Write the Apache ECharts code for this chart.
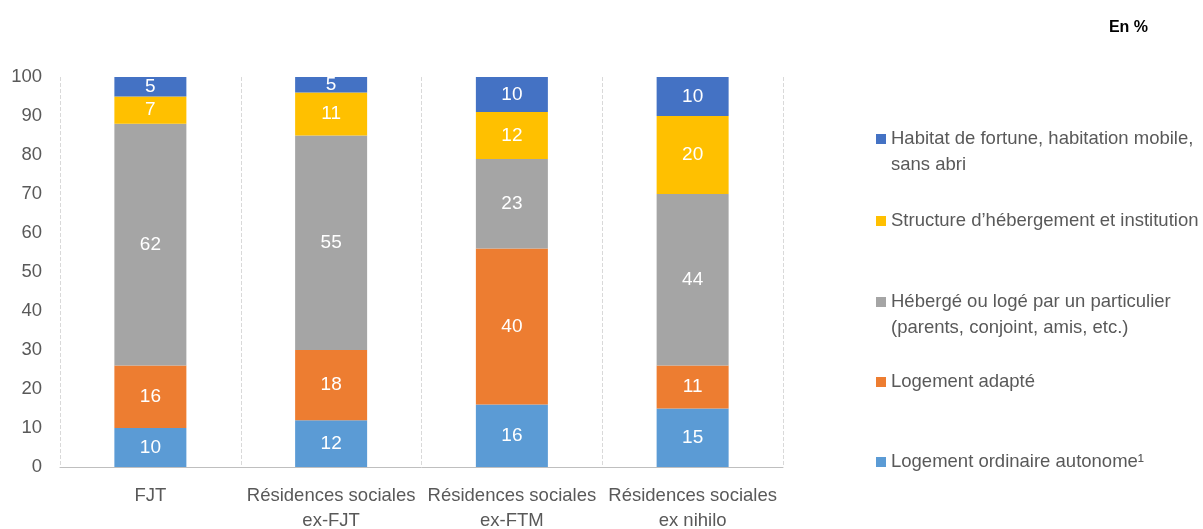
<!DOCTYPE html>
<html><head><meta charset="utf-8">
<script src="https://cdn.jsdelivr.net/npm/echarts@6/dist/echarts.min.js"></script>
<style>html,body{margin:0;padding:0;background:#fff}#c{width:1203px;height:529px}</style>
</head><body><div id="c"></div>
<script>
const categories = ['FJT', 'Résidences sociales\nex-FJT', 'Résidences sociales\nex-FTM', 'Résidences sociales\nex nihilo'];
const seriesNames = [
  'Logement ordinaire autonome¹',
  'Logement adapté',
  'Hébergé ou logé par un particulier\n(parents, conjoint, amis, etc.)',
  'Structure d’hébergement et institution',
  'Habitat de fortune, habitation mobile,\nsans abri'
];
const ordinaire = [10, 12, 16, 15];
const adapte = [16, 18, 40, 11];
const heberge = [62, 55, 23, 44];
const structure = [7, 11, 12, 20];
const fortune = [5, 5, 10, 10];
const yTicks = [0, 10, 20, 30, 40, 50, 60, 70, 80, 90, 100];

const values = [ordinaire, adapte, heberge, structure, fortune];
const colors = ['#5B9BD5', '#ED7D31', '#A5A5A5', '#FFC000', '#4472C4'];
const FONT = '"Liberation Sans", Arial, sans-serif';

const chart = echarts.init(document.getElementById('c'));
const series = values.map((v, i) => ({
  name: seriesNames[i],
  type: 'bar',
  stack: 'total',
  barWidth: 72,
  data: v,
  itemStyle: { color: colors[i] },
  label: { show: true, position: 'inside', color: '#fff', fontSize: 19, fontFamily: FONT }
}));

// legend: top to bottom
const legendOrder = [4, 3, 2, 1, 0];
const legendCenters = [139, 221, 302, 382, 462];
const LH = 26;
const legends = legendOrder.map((si, k) => {
  const multi = seriesNames[si].indexOf('\n') >= 0;
  const top = multi ? legendCenters[k] - 1.5 * LH : legendCenters[k] - LH / 2;
  return {
    data: [{ name: seriesNames[si], icon: 'rect' }],
    left: 876,
    top: top,
    padding: 0,
    orient: 'vertical',
    itemWidth: 10, itemHeight: 10,
    selectedMode: false,
    formatter: multi ? (n => ' \n' + n) : (n => n),
    textStyle: { color: '#595959', fontSize: 18.5, fontFamily: FONT, lineHeight: LH }
  };
});

chart.setOption({
  animation: false,
  title: { text: 'En %', right: 55, top: 20, padding: 0, textStyle: { fontSize: 16, fontWeight: 'bold', color: '#000', fontFamily: FONT } },
  grid: { left: 60, right: 420, top: 77, bottom: 62, containLabel: false, outerBoundsMode: 'none' },
  legend: legends,
  xAxis: {
    type: 'category',
    data: categories,
    axisLine: { lineStyle: { color: '#BFBFBF' } },
    axisTick: { show: false },
    splitLine: { show: true, lineStyle: { color: '#D9D9D9', type: 'dashed' } },
    axisLabel: { color: '#595959', fontSize: 18.5, fontFamily: FONT, lineHeight: 25, margin: 16, interval: 0 }
  },
  yAxis: {
    type: 'value', min: 0, max: 100, interval: 10,
    axisLine: { show: false }, axisTick: { show: false },
    splitLine: { show: false },
    axisLabel: { color: '#595959', fontSize: 18.5, fontFamily: FONT, margin: 18,
      formatter: v => yTicks.indexOf(v) >= 0 ? String(v) : '' }
  },
  series: series
});
</script></body></html>
